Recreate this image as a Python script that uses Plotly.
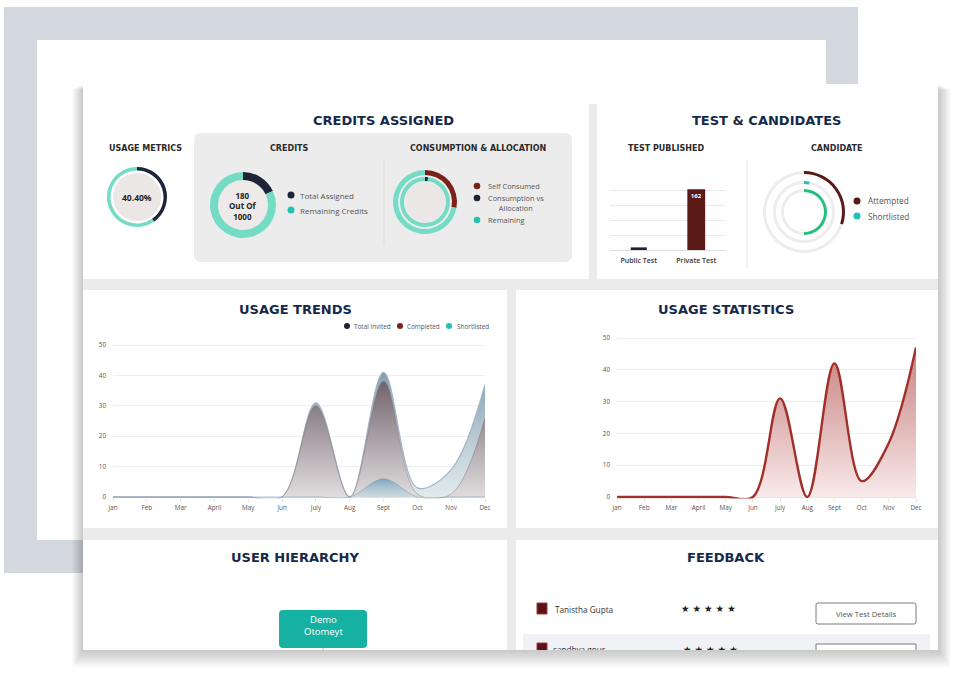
import plotly.graph_objects as go

# ---------------- data ----------------
months = ["Jan", "Feb", "Mar", "April", "May", "Jun", "July", "Aug", "Sept", "Oct", "Nov", "Dec"]
total_invited = [0, 0, 0, 0, 0, 0, 31, 0, 41, 3, 9, 37]
completed = [0, 0, 0, 0, 0, 0, 30, 0, 38, 1, 1, 26]
shortlisted = [0, 0, 0, 0, 0, 0, 0, 0, 6, 0, 0, 0]
usage_statistics = [0, 0, 0, 0, 0, 0, 31, 0, 42, 5, 17, 47]
y_ticks = [0, 10, 20, 30, 40, 50]

test_types = ["Public Test", "Private Test"]
test_counts = [7, 162]

usage_metric_pct = 40.40
credits_assigned = 180
credits_total = 1000
consumption_labels = ["Self Consumed", "Consumption vs<br>Allocation", "Remaining"]
self_consumed_pct = 28
consumption_vs_alloc_pct = 2
candidate_labels = ["Attempted", "Shortlisted"]
candidate_rings = [30, 3, 50]   # outer, middle, inner ring (% of circle)
feedback_names = ["Tanistha Gupta", "sandhya gour"]
feedback_stars = [5, 5]

# ---------------- helpers ----------------
W, H = 960, 683
def px(x): return x / W
def py(y): return 1 - y / H

NAVY = "#15294b"
TEAL = "#74dcc5"
TEAL2 = "#22c1b3"
DARK = "#1d2438"
BROWN = "#7a2219"
BAR_BROWN = "#5a1a16"
GREEN = "#22c07f"
PANEL_GAP = "#ebebeb"
FONT = "Open Sans"
HEAD = "DejaVu Sans"

shapes, annots = [], []

def rect(x0, y0, x1, y1, fill, line=None, layer="below", opacity=1):
    shapes.append(dict(type="rect", xref="paper", yref="paper", x0=px(x0), x1=px(x1),
                       y0=py(y1), y1=py(y0), fillcolor=fill, opacity=opacity, layer=layer,
                       line=dict(width=0) if line is None else line))

def rrect(x0, y0, x1, y1, r, fill, line=None, layer="below"):
    p = (f"M {px(x0+r)},{py(y0)} L {px(x1-r)},{py(y0)} Q {px(x1)},{py(y0)} {px(x1)},{py(y0+r)} "
         f"L {px(x1)},{py(y1-r)} Q {px(x1)},{py(y1)} {px(x1-r)},{py(y1)} "
         f"L {px(x0+r)},{py(y1)} Q {px(x0)},{py(y1)} {px(x0)},{py(y1-r)} "
         f"L {px(x0)},{py(y0+r)} Q {px(x0)},{py(y0)} {px(x0+r)},{py(y0)} Z")
    shapes.append(dict(type="path", xref="paper", yref="paper", path=p, fillcolor=fill, layer=layer,
                       line=dict(width=0) if line is None else line))

def circle(cx, cy, r, fill, layer="below", line=None):
    shapes.append(dict(type="circle", xref="paper", yref="paper", x0=px(cx-r), x1=px(cx+r),
                       y0=py(cy+r), y1=py(cy-r), fillcolor=fill, layer=layer,
                       line=dict(width=0) if line is None else line))

def vline(x, y0, y1, color, width=1, layer="below"):
    shapes.append(dict(type="line", xref="paper", yref="paper", x0=px(x), x1=px(x), y0=py(y0), y1=py(y1),
                       line=dict(color=color, width=width), layer=layer))

def text(x, y, s, size, color="#333", bold=False, anchor="center", family=FONT):
    annots.append(dict(x=px(x), y=py(y), xref="paper", yref="paper", text=s, showarrow=False,
                       xanchor=anchor, yanchor="middle",
                       font=dict(family=family, size=size, color=color, weight=700 if bold else 400)))

fig = go.Figure()

def ring(cx, cy, r, width, values, colors):
    fig.add_trace(go.Pie(values=values, marker=dict(colors=colors, line=dict(width=0)),
                         hole=(r - width) / r,
                         domain=dict(x=[px(cx - r), px(cx + r)], y=[py(cy + r), py(cy - r)]),
                         sort=False, direction="clockwise", rotation=0, textinfo="none",
                         hoverinfo="skip", showlegend=False, automargin=False))

# ---------------- background decoration ----------------
rect(4, 7, 858, 573, "#d3d7de")
rect(37, 40, 826, 540, "#ffffff")
# card shadow
for k in range(10):
    rect(83 - k * 1.2, 84 + k * 0.6, 938 + k * 1.4, 650 + k * 1.9, "rgba(0,0,0,0.022)")
rect(83, 84, 938, 650, PANEL_GAP)
# panels
rect(83, 84, 938, 104, "#ffffff")
rect(83, 84, 589, 279, "#ffffff")
rect(597, 84, 938, 279, "#ffffff")
rect(83, 290, 507, 528, "#ffffff")
rect(516, 290, 938, 528, "#ffffff")
rect(83, 540, 507, 650, "#ffffff")
rect(516, 540, 938, 650, "#ffffff")
# credits inner box
rrect(194, 133, 572, 262, 7, "#ececec")
vline(384, 160, 246, "#dddddd")
vline(747, 160, 268, "#e4e4e4")

# ---------------- titles ----------------
for s, x, y in [("CREDITS ASSIGNED", 383, 120), ("TEST &amp; CANDIDATES", 766, 120),
                ("USAGE TRENDS", 295, 309), ("USAGE STATISTICS", 726, 309),
                ("USER HIERARCHY", 295, 557), ("FEEDBACK", 726, 557)]:
    text(x, y, s, 13, NAVY, True, family=HEAD)

for s, x in [("USAGE METRICS", 145), ("CREDITS", 289), ("CONSUMPTION &amp; ALLOCATION", 478),
             ("TEST PUBLISHED", 666), ("CANDIDATE", 837)]:
    text(x, 148, s, 8, "#2a2a2a", True, family=HEAD)

# ---------------- usage metrics donut ----------------
ring(137, 197, 30, 3.5, [usage_metric_pct, 100 - usage_metric_pct], [DARK, TEAL])
circle(137, 197, 24, "#ebe7e7")
text(137, 198, f"{usage_metric_pct:.2f}%", 8.5, "#222", True)

# ---------------- credits donut ----------------
ring(243, 205, 33, 8, [credits_assigned, credits_total - credits_assigned], [DARK, TEAL])
circle(243, 205, 25, "#eeeaea")
text(243, 206, f"{credits_assigned}<br>Out Of<br>{credits_total}", 8, "#222", True)
circle(291, 195, 3.5, DARK, layer="above")
text(298, 195, "Total Assigned", 8, "#555", anchor="left")
circle(291, 210, 3.5, TEAL2, layer="above")
text(298, 210, "Remaining Credits", 8, "#555", anchor="left")

# ---------------- consumption donut ----------------
ring(425, 202, 32, 5, [self_consumed_pct, 100 - self_consumed_pct], [BROWN, TEAL])
ring(425, 202, 25, 4, [consumption_vs_alloc_pct, 100 - consumption_vs_alloc_pct], [DARK, TEAL])
circle(425, 202, 20, "#ebe7e7")
leg_cols = [BROWN, DARK, TEAL2]
leg_y = [186, 198, 220]
for lab, col, yy in zip(consumption_labels, leg_cols, leg_y):
    circle(477, yy, 3.3, col, layer="above")
    text(486, yy + (5 if "<br>" in lab else 0), lab, 7.4, "#555", anchor="left")

# ---------------- candidate rings ----------------
cand_cols = [BAR_BROWN, TEAL2, GREEN]
for val, col, r in zip(candidate_rings, cand_cols, [41, 31, 23]):
    ring(804, 212, r, 3, [val, 100 - val], [col, "#ededed"])
for lab, col, yy in zip(candidate_labels, [BAR_BROWN, TEAL2], [201, 216]):
    circle(857, yy, 3.5, col, layer="above")
    text(866, yy, lab, 8.2, "#555", anchor="left")

# ---------------- test published bars ----------------
fig.add_trace(go.Bar(x=test_types, y=test_counts, marker=dict(color=[DARK, BAR_BROWN], line=dict(width=0)),
                     width=[0.28, 0.31], text=["", str(test_counts[1])], textposition="inside",
                     insidetextanchor="end", textangle=0,
                     textfont=dict(family=FONT, size=6, color="#ffffff", weight=700),
                     hoverinfo="skip", showlegend=False, xaxis="x", yaxis="y"))

# ---------------- usage trends ----------------
def grad(c_top, c_bot, top):
    return dict(type="vertical", start=0, stop=top, colorscale=[[0, c_bot], [1, c_top]])

fig.add_trace(go.Scatter(x=months, y=total_invited, mode="lines", line=dict(shape="spline", smoothing=1.0, color="#a3b6c6", width=1.2),
                         fill="tozeroy", fillgradient=grad("rgba(128,152,174,0.95)", "rgba(218,230,233,0.8)", max(total_invited)),
                         hoverinfo="skip", showlegend=False, xaxis="x2", yaxis="y2"))
fig.add_trace(go.Scatter(x=months, y=completed, mode="lines", line=dict(shape="spline", smoothing=1.0, color="rgba(120,100,105,0.5)", width=0.8),
                         fill="tozeroy", fillgradient=grad("rgba(112,96,103,0.95)", "rgba(224,217,219,0.85)", max(completed)),
                         hoverinfo="skip", showlegend=False, xaxis="x2", yaxis="y2"))
fig.add_trace(go.Scatter(x=months, y=shortlisted, mode="lines", line=dict(shape="spline", smoothing=1.0, color="rgba(120,160,185,0.7)", width=0.8),
                         fill="tozeroy", fillgradient=grad("rgba(110,160,185,0.85)", "rgba(190,215,222,0.5)", max(shortlisted)),
                         hoverinfo="skip", showlegend=False, xaxis="x2", yaxis="y2"))
for lab, col, xx, tx in [("Total Invited", DARK, 347, 352), ("Completed", BROWN, 400, 405), ("Shortlisted", TEAL2, 449, 455)]:
    circle(xx, 326, 3, col, layer="above")
    text(tx, 326.5, lab, 6.4, "#555", anchor="left")

# ---------------- usage statistics ----------------
fig.add_trace(go.Scatter(x=months, y=usage_statistics, mode="lines",
                         line=dict(shape="spline", smoothing=1.0, color="#a2302a", width=2.4),
                         fill="tozeroy", fillgradient=grad("rgba(190,110,108,0.85)", "rgba(248,232,232,0.9)", max(usage_statistics)),
                         hoverinfo="skip", showlegend=False, xaxis="x3", yaxis="y3"))

# ---------------- user hierarchy ----------------
rrect(279, 610, 367, 648, 4, "#15b2a3", layer="above")
text(323, 625, "Demo<br>Otomeyt", 9.5, "#ffffff")
vline(323, 648, 651, "#bbbbbb", layer="above")

# ---------------- feedback (row 1 on paper, row 2 clipped in a px subplot) ----------------
rect(537, 603, 547, 614, "#5b1313", line=dict(color="#9a3a3a", width=1), layer="above")
text(553, 609, feedback_names[0], 8.2, "#333", anchor="left")
text(708, 608, " ".join(["★"] * feedback_stars[0]), 9.5, "#222", family="DejaVu Sans")
rrect(816, 603, 916, 624, 2, "#ffffff", line=dict(color="#7a7a7a", width=1), layer="above")
text(866, 614, "View Test Details", 7.7, "#555")

fig.add_trace(go.Scatter(x=[542], y=[648], mode="markers", marker=dict(symbol="square", size=10, color="#5b1313",
                         line=dict(color="#9a3a3a", width=1)), hoverinfo="skip", showlegend=False,
                         xaxis="x4", yaxis="y4", cliponaxis=True))
fig.add_trace(go.Scatter(x=[553, 683], y=[651, 651],
                         text=[feedback_names[1], " ".join(["★"] * feedback_stars[1])], mode="text",
                         textposition="middle right", textfont=dict(family=[FONT, "DejaVu Sans"], size=[8.2, 9.5], color=["#333", "#222"]),
                         hoverinfo="skip", showlegend=False, xaxis="x4", yaxis="y4", cliponaxis=True))
row2_shapes = [
    dict(type="rect", xref="x4", yref="y4", x0=523, x1=930, y0=634, y1=660, fillcolor="#f1f2f5", line=dict(width=0), layer="below"),
    dict(type="rect", xref="x4", yref="y4", x0=816, x1=916, y0=644, y1=666, fillcolor="#ffffff", line=dict(color="#7a7a7a", width=1), layer="above"),
]

# ---------------- axes ----------------
axis_font = dict(family=FONT, size=6.3, color="#555")
tr_ppu = (497 - 345) / 50
st_ppu = (497 - 338) / 50
YMIN = -0.45
fig.update_layout(
    width=W, height=H, margin=dict(l=0, r=0, t=0, b=0, pad=0, autoexpand=False),
    paper_bgcolor="#ffffff", plot_bgcolor="rgba(0,0,0,0)",
    hovermode=False, showlegend=False,
    shapes=row2_shapes + shapes, annotations=annots,
    xaxis=dict(domain=[px(610), px(725)], anchor="y", type="category", range=[-0.5, 1.5], showgrid=False,
               showline=True, linecolor="#dddddd", ticks="", tickfont=dict(family=FONT, size=7, color="#333", weight=600),
               ticklabelstandoff=4, fixedrange=True, automargin=False),
    yaxis=dict(domain=[py(250), py(175)], anchor="x", range=[0, 200], dtick=40, showticklabels=False,
               gridcolor="#e9e9e9", zeroline=False, fixedrange=True, automargin=False),
    xaxis2=dict(domain=[px(113), px(485)], anchor="y2", type="category", range=[0, 11], showgrid=False,
                showline=False, ticks="outside", ticklen=3, tickcolor="#e3e3e3", tickfont=axis_font,
                fixedrange=True, automargin=False),
    yaxis2=dict(domain=[py(497 - YMIN * tr_ppu), py(345 - 0.5 * tr_ppu)], anchor="x2", range=[YMIN, 50.5],
                tickvals=y_ticks, gridcolor="#eeeeee", zeroline=True, zerolinecolor="#e3e3e3", zerolinewidth=1,
                tickfont=axis_font, ticklabelstandoff=6, fixedrange=True, automargin=False),
    xaxis3=dict(domain=[px(617), px(916)], anchor="y3", type="category", range=[0, 11], showgrid=False,
                showline=False, ticks="outside", ticklen=3, tickcolor="#e3e3e3", tickfont=axis_font,
                fixedrange=True, automargin=False),
    yaxis3=dict(domain=[py(497 - YMIN * st_ppu), py(338 - 0.5 * st_ppu)], anchor="x3", range=[YMIN, 50.5],
                tickvals=y_ticks, gridcolor="#eeeeee", zeroline=True, zerolinecolor="#e3e3e3", zerolinewidth=1,
                tickfont=axis_font, ticklabelstandoff=6, fixedrange=True, automargin=False),
    xaxis4=dict(domain=[px(523), px(930)], anchor="y4", range=[523, 930], visible=False, fixedrange=True, automargin=False),
    yaxis4=dict(domain=[py(650), py(630)], anchor="x4", range=[650, 630], visible=False, fixedrange=True, automargin=False),
)

fig.write_html("out.html")
